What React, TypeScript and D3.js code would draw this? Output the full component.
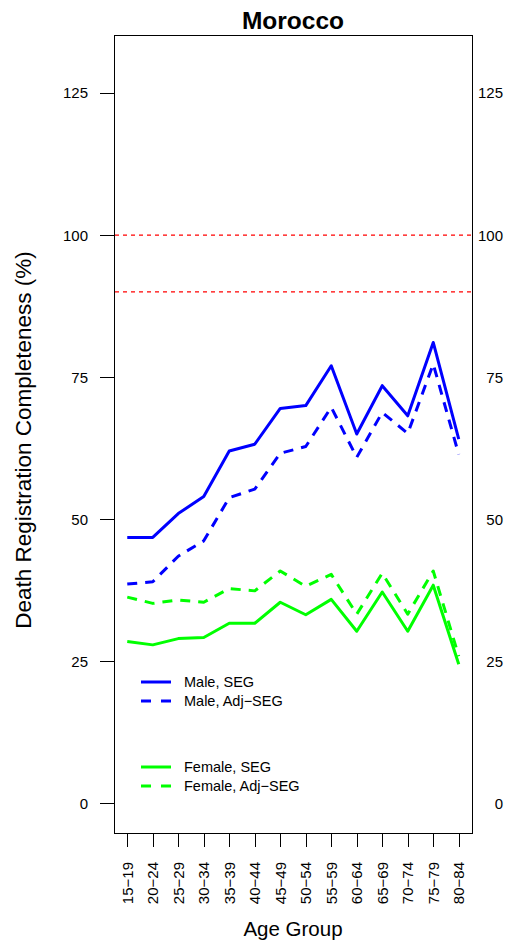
import React from "react";
import * as d3 from "d3";

const ageGroups = ["15\u221219","20\u221224","25\u221229","30\u221234","35\u221239","40\u221244","45\u221249","50\u221254","55\u221259","60\u221264","65\u221269","70\u221274","75\u221279","80\u221284"];
const maleSEG = [46.8, 46.8, 51.0, 54.0, 62.0, 63.2, 69.5, 70.0, 77.0, 65.0, 73.5, 68.2, 81.1, 64.1];
const maleAdjSEG = [38.6, 39.0, 43.5, 46.2, 53.8, 55.3, 61.6, 62.8, 69.7, 60.9, 68.8, 65.1, 77.3, 61.4];
const femaleSEG = [28.5, 27.9, 29.0, 29.2, 31.7, 31.7, 35.4, 33.2, 35.9, 30.3, 37.2, 30.3, 38.4, 24.5];
const femaleAdjSEG = [36.3, 35.2, 35.8, 35.4, 37.8, 37.4, 40.9, 38.2, 40.3, 33.3, 40.5, 33.3, 40.9, 25.9];
const yTicks = [0, 25, 50, 75, 100, 125];
const refLines = [100, 90];

const W = 514, H = 940;
const left = 114, right = 472, top = 35, bottom = 833;
const FONT = "Liberation Sans, Arial, Helvetica, sans-serif";

export default function App() {
  const n = ageGroups.length;
  const xPad = (n - 1) * 0.04;
  const x = d3.scaleLinear().domain([1 - xPad, n + xPad]).range([left, right]);
  const y = d3.scaleLinear().domain([-5.2, 135.2]).range([bottom, top]);
  const line = d3.line<number>().x((_, i) => x(i + 1)).y((d) => y(d));
  const crisp = (v: number) => Math.round(v) + 0.5;

  const series = [
    { data: maleSEG, color: "#0000FF", dash: undefined, label: "Male, SEG" },
    { data: maleAdjSEG, color: "#0000FF", dash: "10,8", label: "Male, Adj\u2212SEG" },
    { data: femaleSEG, color: "#00FF00", dash: undefined, label: "Female, SEG" },
    { data: femaleAdjSEG, color: "#00FF00", dash: "10,8", label: "Female, Adj\u2212SEG" },
  ];
  const legendY = [682, 701, 767, 786];

  return (
    <svg width={W} height={H} style={{ position: "absolute", left: 0, top: 0 }} fontFamily={FONT}>
      <rect x={0} y={0} width={W} height={H} fill="#fff" />
      <text x={(left + right) / 2} y={29} textAnchor="middle" fontSize={24.5} fontWeight="bold">Morocco</text>
      {refLines.map((v) => (
        <line key={"ref" + v} x1={left + 1} x2={right} y1={y(v)} y2={y(v)} stroke="#FF0000" strokeWidth={1.2} strokeDasharray="4,4" />
      ))}
      {series.map((s, i) => (
        <path key={i} d={line(s.data) || ""} fill="none" stroke={s.color} strokeWidth={3} strokeDasharray={s.dash} strokeLinejoin="round" />
      ))}
      <rect x={left + 0.5} y={top + 0.5} width={right - left} height={bottom - top} fill="none" stroke="#000" strokeWidth={1} />
      {yTicks.map((t) => (
        <g key={t}>
          <line x1={left - 14} x2={left} y1={crisp(y(t))} y2={crisp(y(t))} stroke="#000" />
          <text x={88} y={y(t) + 5.5} textAnchor="end" fontSize={15}>{t}</text>
          <text x={503} y={y(t) + 5.5} textAnchor="end" fontSize={15}>{t}</text>
        </g>
      ))}
      {ageGroups.map((g, i) => (
        <g key={g}>
          <line x1={crisp(x(i + 1))} x2={crisp(x(i + 1))} y1={bottom} y2={bottom + 14} stroke="#000" />
          <text transform={`translate(${x(i + 1) + 5.5},862) rotate(-90)`} textAnchor="end" fontSize={15}>{g}</text>
        </g>
      ))}
      <text x={(left + right) / 2} y={936} textAnchor="middle" fontSize={20.5}>Age Group</text>
      <text transform={`translate(31,440) rotate(-90)`} textAnchor="middle" fontSize={22.5}>Death Registration Completeness (%)</text>
      {series.map((s, i) => (
        <g key={"lg" + i}>
          <line x1={141} x2={171} y1={legendY[i]} y2={legendY[i]} stroke={s.color} strokeWidth={3} strokeDasharray={s.dash ? "10,10" : undefined} />
          <text x={184} y={legendY[i] + 5} fontSize={14.5}>{s.label}</text>
        </g>
      ))}
    </svg>
  );
}
